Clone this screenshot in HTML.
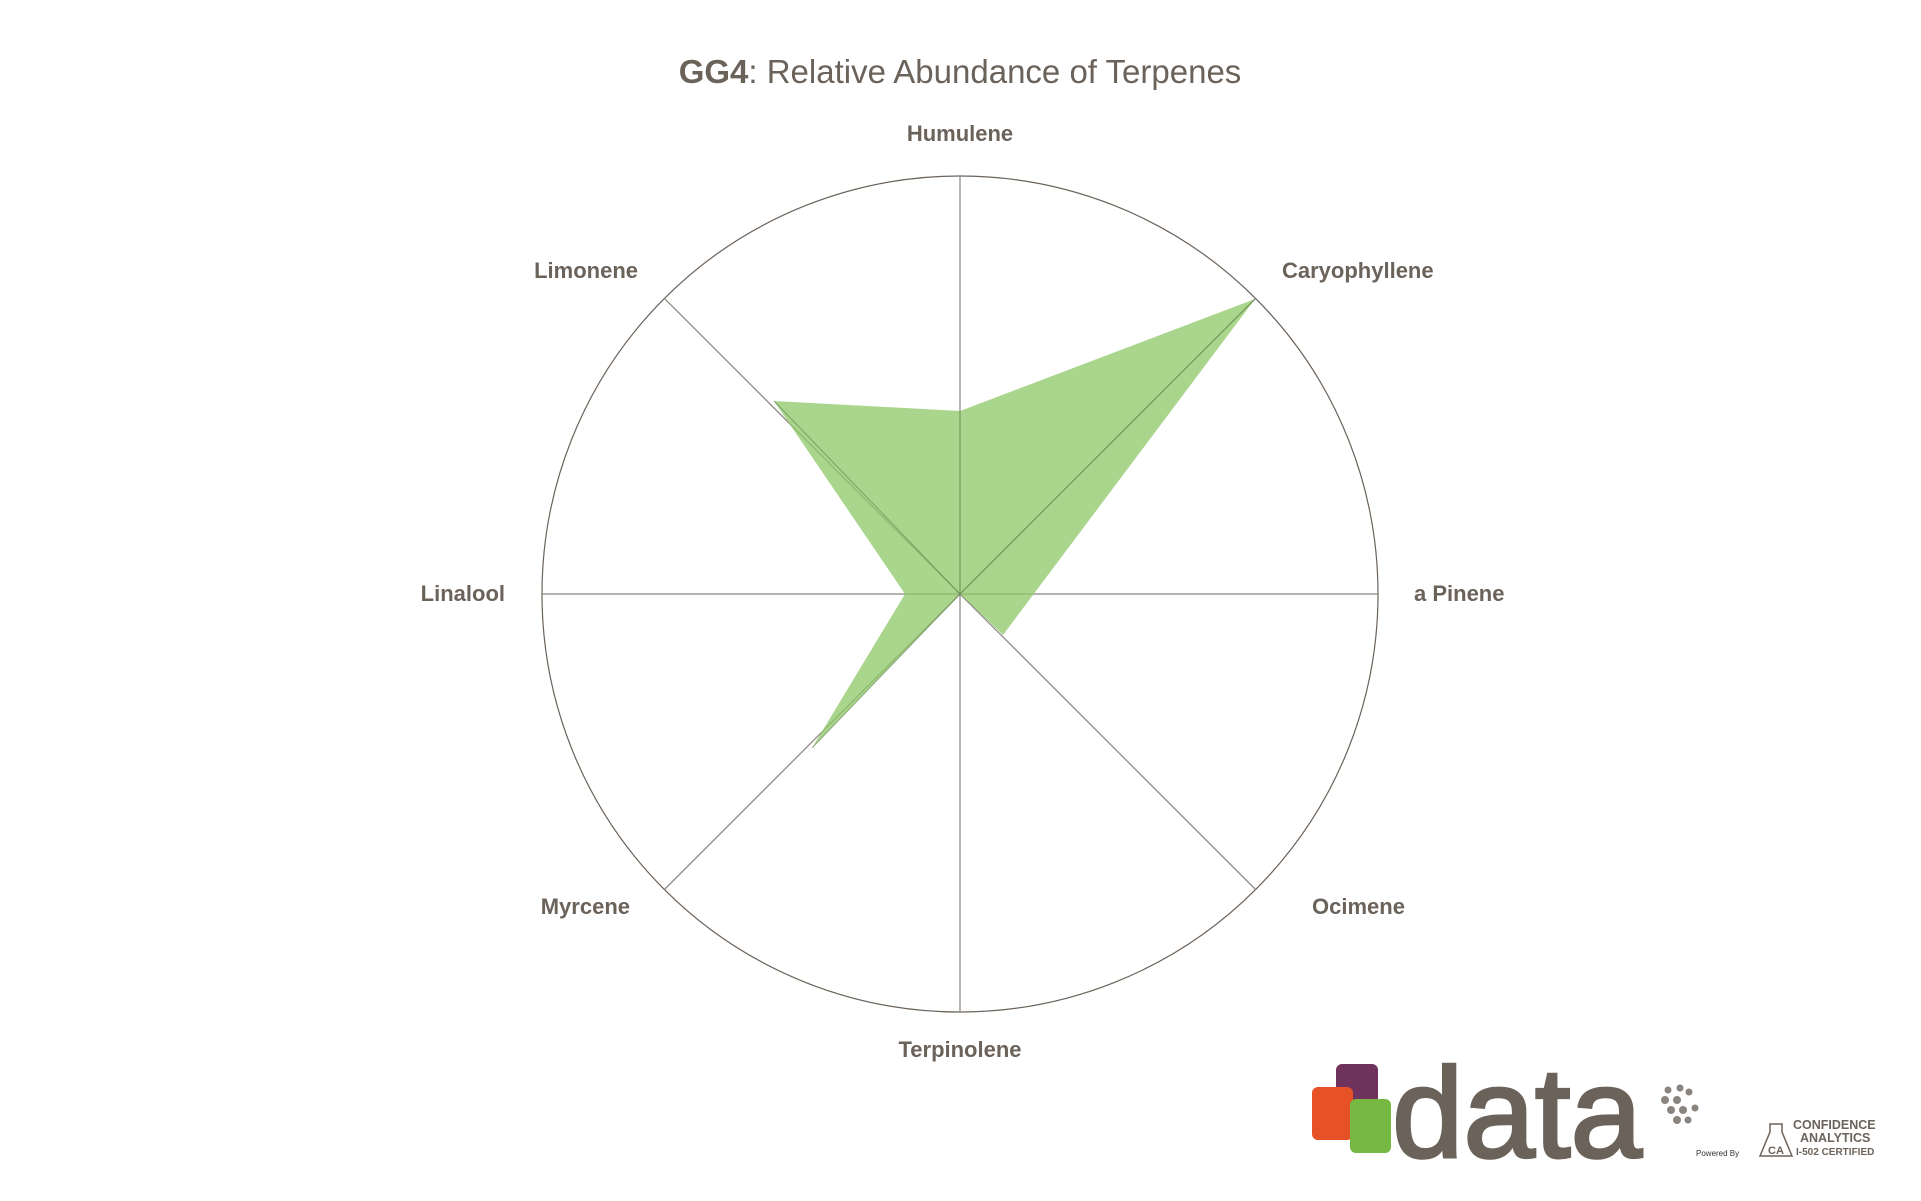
<!DOCTYPE html>
<html><head><meta charset="utf-8"><style>
html,body{margin:0;padding:0;background:#fff;}
svg{display:block}
</style></head><body>
<svg width="1921" height="1201" viewBox="0 0 1921 1201" xmlns="http://www.w3.org/2000/svg" font-family="Liberation Sans, sans-serif">
<text x="960" y="83" text-anchor="middle" font-size="33" fill="#6b625a"><tspan font-weight="bold">GG4</tspan>: Relative Abundance of Terpenes</text>
<g stroke="#8a847e" stroke-width="1.2" fill="none">
<circle cx="960" cy="594" r="418" stroke="#6b625a"/>
<line x1="960" y1="176" x2="960" y2="1012"/>
<line x1="542" y1="594" x2="1378" y2="594"/>
<line x1="664.4" y1="298.4" x2="1255.6" y2="889.6"/>
<line x1="1255.6" y1="298.4" x2="664.4" y2="889.6"/>
</g>
<polygon points="960,411 1255,299 1003,635 960,594 812,748 905,594 774,401" fill="#8cc866" fill-opacity="0.75"/>
<g stroke="#5f7a50" stroke-width="1" opacity="0.6">
<line x1="960" y1="411" x2="960" y2="594"/>
<line x1="774" y1="401" x2="960" y2="594"/>
<line x1="1255" y1="299" x2="960" y2="594"/>
<line x1="812" y1="748" x2="960" y2="594"/>
</g>
<g font-size="22" font-weight="bold" fill="#6b625a">
<text x="960" y="141" text-anchor="middle">Humulene</text>
<text x="1282" y="278">Caryophyllene</text>
<text x="638" y="278" text-anchor="end">Limonene</text>
<text x="505" y="601" text-anchor="end">Linalool</text>
<text x="1414" y="601">a Pinene</text>
<text x="630" y="914" text-anchor="end">Myrcene</text>
<text x="1312" y="914">Ocimene</text>
<text x="960" y="1057" text-anchor="middle">Terpinolene</text>
</g>
<rect x="1336" y="1064" width="42" height="44" rx="6" fill="#6e325c"/>
<rect x="1312" y="1087" width="41" height="53" rx="6" fill="#e65226"/>
<rect x="1350" y="1099" width="41" height="54" rx="6" fill="#77b843"/>
<text x="1392" y="1157" font-size="128" fill="#6b625a" stroke="#6b625a" stroke-width="3" textLength="250" lengthAdjust="spacingAndGlyphs">data</text>
<g fill="#8a847e">
<circle cx="1665" cy="1100" r="4"/><circle cx="1677" cy="1100" r="4"/><circle cx="1671" cy="1110" r="4"/><circle cx="1683" cy="1110" r="4"/><circle cx="1677" cy="1120" r="4"/><circle cx="1689" cy="1092" r="3.5"/><circle cx="1695" cy="1108" r="3.5"/><circle cx="1668" cy="1090" r="3.5"/><circle cx="1680" cy="1088" r="3.5"/><circle cx="1688" cy="1120" r="3.5"/>
</g>
<text x="1696" y="1156" font-size="8" fill="#333">Powered By</text>
<path d="M1776,1124 L1782,1124 L1782,1132 L1792,1156 L1760,1156 L1770,1132 L1770,1124 Z" fill="none" stroke="#6b625a" stroke-width="1.5"/>
<text x="1776" y="1154" font-size="11" font-weight="bold" fill="#6b625a" text-anchor="middle">CA</text>
<g font-size="12.5" font-weight="bold" fill="#6b625a">
<text x="1793" y="1129">CONFIDENCE</text>
<text x="1800" y="1142">ANALYTICS</text>
<text x="1796" y="1155" font-size="10">I-502 CERTIFIED</text>
</g>
</svg>
</body></html>
